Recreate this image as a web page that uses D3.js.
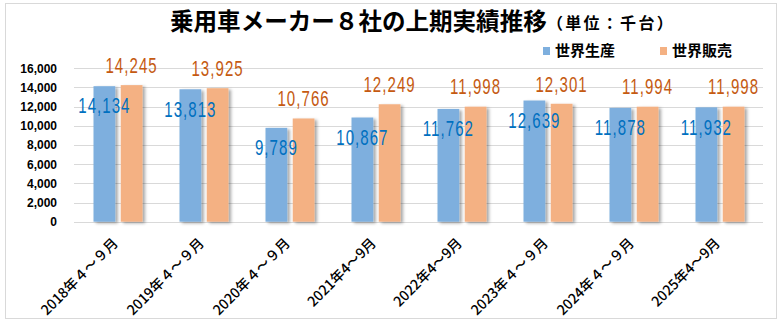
<!DOCTYPE html>
<html><head><meta charset="utf-8">
<script src="https://cdn.jsdelivr.net/npm/d3@7"></script>
<style>html,body{margin:0;padding:0;background:#fff;}svg{display:block;}</style>
</head><body>
<svg id="chart" width="783" height="326"></svg>
<script>
const categories = ["2018年４～９月","2019年４～９月","2020年４～９月","2021年4～9月","2022年4～9月","2023年４～９月","2024年４～９月","2025年4～9月"];
const seriesNames = ["世界生産","世界販売"];
const production = [14134,13813,9789,10867,11762,12639,11878,11932];
const sales = [14245,13925,10766,12249,11998,12301,11994,11998];
const yTicks = [0,2000,4000,6000,8000,10000,12000,14000,16000];
const colors = ["#7EAFDE","#F4B183"];
const labelColors = ["#0070C0","#C55A11"];

const svg = d3.select("#chart");
const defs = svg.append("defs");
const f = defs.append("filter").attr("id","sh").attr("x","-20%").attr("y","-20%").attr("width","150%").attr("height","150%");
f.append("feDropShadow").attr("dx",2.5).attr("dy",1.5).attr("stdDeviation",1.4).attr("flood-color","#000").attr("flood-opacity",0.35);

svg.append("rect").attr("x",5.5).attr("y",3.5).attr("width",771).attr("height",315)
  .attr("fill","#fff").attr("stroke","#d9d9d9").attr("stroke-width",1);

const y = d3.scaleLinear().domain([0,16000]).range([221.7,68.3]);
const x0 = d3.scaleBand().domain(categories).range([75,763]);
const x1 = d3.scaleBand().domain(seriesNames).range([-24.5,24.5]).paddingInner(0.2);

// gridlines
svg.append("g").selectAll("line").data(yTicks).join("line")
  .attr("x1",74).attr("x2",763)
  .attr("y1",d=>Math.round(y(d))+0.5).attr("y2",d=>Math.round(y(d))+0.5)
  .attr("stroke","#d9d9d9").attr("stroke-width",1);

// y axis labels
const yAxis = d3.axisLeft(y).tickValues(yTicks).tickFormat(d3.format(",")).tickSize(0).tickPadding(0);
const ya = svg.append("g").attr("transform","translate(57,0)").call(yAxis);
ya.select(".domain").remove();
ya.selectAll("text").attr("font-family","'Liberation Sans',Arial,sans-serif").attr("font-weight","bold")
  .attr("font-size","12px").attr("fill","#000");

const data = [production, sales];
// bars
data.forEach((vals,si)=>{
  svg.append("g").attr("filter","url(#sh)").selectAll("rect").data(vals).join("rect")
    .attr("x",(d,i)=>x0(categories[i])+x0.bandwidth()/2+x1(seriesNames[si]))
    .attr("width",x1.bandwidth())
    .attr("y",d=>y(d)).attr("height",d=>y(0)-y(d))
    .attr("fill",colors[si]);
});

// value labels (horizontally condensed)
data.forEach((vals,si)=>{
  svg.append("g").selectAll("text").data(vals).join("text")
    .attr("transform",(d,i)=>{
      const cx = x0(categories[i])+x0.bandwidth()/2+x1(seriesNames[si])+x1.bandwidth()/2;
      const cy = si===0 ? y(d)+19.5 : y(d)-20;
      return `translate(${cx},${cy}) scale(0.7,1)`;
    })
    .attr("dy","0.36em")
    .attr("text-anchor","middle")
    .attr("font-family","'Liberation Sans',Arial,sans-serif")
    .attr("font-size","21.5px")
    .attr("letter-spacing","1.5px")
    .attr("fill",labelColors[si])
    .text(d=>d3.format(",")(d));
});

// x labels
svg.append("g").selectAll("text").data(categories).join("text")
  .attr("transform",d=>`translate(${x0(d)+x0.bandwidth()/2+1},${244}) rotate(-45)`)
  .attr("text-anchor","end")
  .attr("font-family","'Noto Sans CJK JP',sans-serif")
  .attr("font-size","14px")
  .attr("font-weight","500")
  .attr("fill","#000")
  .text(d=>d);

// title
const t = svg.append("text").attr("x",170).attr("y",30)
  .attr("font-family","'Noto Sans CJK JP',sans-serif").attr("font-weight","bold").attr("fill","#000");
const t1 = t.append("tspan").attr("font-size","23px").text("乗用車メーカー８社の上期実績推移");
const w1 = t1.node().getComputedTextLength();
t1.attr("font-size", (23*377/w1).toFixed(2)+"px");
const t2 = svg.append("text").attr("x",547).attr("y",29)
  .attr("font-family","'Noto Sans CJK JP',sans-serif").attr("font-weight","bold").attr("fill","#000")
  .attr("font-size","16px").text("（単位：千台）");
const w2 = t2.node().getComputedTextLength();
t2.attr("letter-spacing", ((128-w2)/7).toFixed(2)+"px");

// legend
const legX = [543,660];
seriesNames.forEach((s,i)=>{
  svg.append("rect").attr("x",legX[i]).attr("y",47).attr("width",7).attr("height",8).attr("fill",colors[i]);
  svg.append("text").attr("x",legX[i]+12).attr("y",56)
    .attr("font-family","'Noto Sans CJK JP',sans-serif").attr("font-weight","bold")
    .attr("font-size","15px").attr("fill","#000").text(s);
});
</script>
</body></html>
